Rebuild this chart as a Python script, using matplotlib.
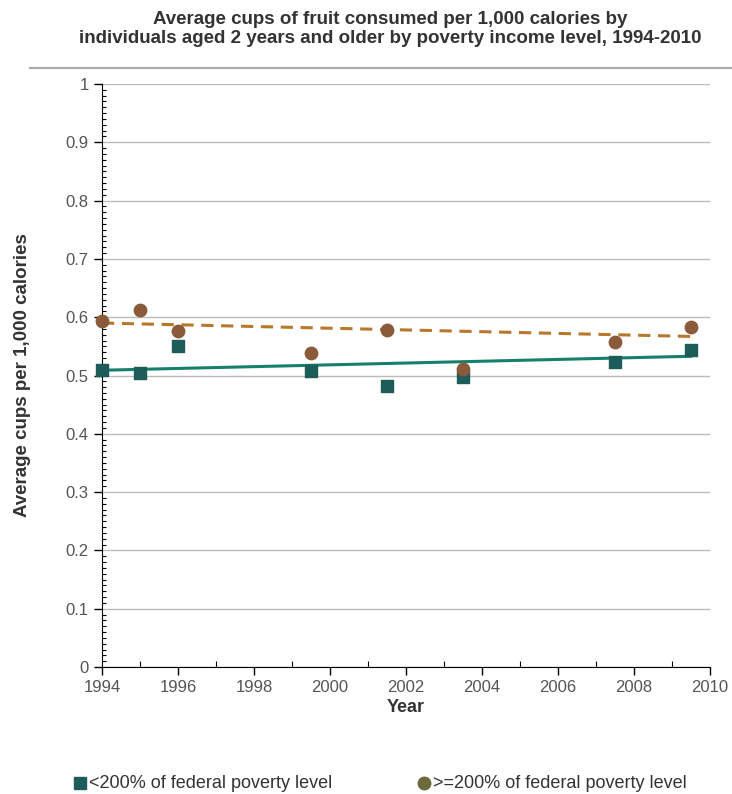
import matplotlib.pyplot as plt
import numpy as np
from matplotlib.ticker import MultipleLocator

plt.rcParams['font.family'] = ['Liberation Sans', 'DejaVu Sans']

# data
years = [1994, 1995, 1996, 1999.5, 2001.5, 2003.5, 2007.5, 2009.5]
below_200 = [0.510, 0.505, 0.550, 0.507, 0.482, 0.498, 0.524, 0.543]
above_200 = [0.593, 0.613, 0.576, 0.538, 0.578, 0.511, 0.557, 0.583]

trend_years = [1994, 2009.5]
below_trend = [0.509, 0.533]
above_trend = [0.590, 0.567]

label_below = "<200% of federal poverty level"
label_above = ">=200% of federal poverty level"
title = ("Average cups of fruit consumed per 1,000 calories by\n"
         "individuals aged 2 years and older by poverty income level, 1994-2010")

W, H = 732, 794
fig = plt.figure(figsize=(7.32, 7.94), dpi=100)
ax = fig.add_axes([102 / W, 1 - 667 / H, 608 / W, 583 / H])

ax.plot(trend_years, below_trend, color='#16806a', lw=2.2, zorder=3)
ax.plot(trend_years, above_trend, color='#b8782c', lw=2.2, ls=(0, (4, 2.5)), zorder=3)
ax.scatter(years, below_200, marker='s', s=70, color='#1d5c58', zorder=4, clip_on=False)
ax.scatter(years, above_200, marker='o', s=80, color='#8a5a3a', zorder=4, clip_on=False)

ax.set_xlim(1994, 2010)
ax.set_ylim(0, 1)
ax.xaxis.set_major_locator(MultipleLocator(2))
ax.xaxis.set_minor_locator(MultipleLocator(1))
ax.yaxis.set_minor_locator(MultipleLocator(0.01))
ax.set_yticks(np.arange(0, 1.01, 0.1))
ax.set_yticklabels(['0', '0.1', '0.2', '0.3', '0.4', '0.5', '0.6', '0.7', '0.8', '0.9', '1'])

ax.tick_params(axis='both', which='major', direction='out', length=6, width=1,
               labelsize=12, labelcolor='#555555')
ax.tick_params(axis='y', which='minor', direction='in', length=3, width=0.8)
ax.tick_params(axis='x', which='minor', direction='in', length=4, width=0.8)

for s in ['top', 'right']:
    ax.spines[s].set_visible(False)
ax.grid(axis='y', which='major', color='#bbbbbb', lw=1)
ax.set_axisbelow(True)

ax.set_xlabel('Year', fontsize=13, fontweight='bold', color='#333333', labelpad=3)
ax.set_ylabel('Average cups per 1,000 calories', fontsize=13.5, fontweight='bold',
              color='#333333')
ax.yaxis.set_label_coords((31 - 102) / 608, 0.5)

fig.text(390 / W, 1 - 29 / H, title, ha='center', va='center', fontsize=13.5,
         fontweight='bold', color='#333333', linespacing=1.15)
fig.add_artist(plt.Line2D([30 / W, 1], [1 - 68 / H] * 2, color='#aaaaaa', lw=1.5,
                          transform=fig.transFigure))

# legend drawn by hand to sit where the original has it
ly = 1 - 783 / H
fig.add_artist(plt.Line2D([80 / W], [ly], marker='s', color='#1d5c58', ls='none',
                          markersize=8, transform=fig.transFigure))
fig.text(89 / W, ly, label_below, ha='left', va='center', fontsize=13, color='#333333')
fig.add_artist(plt.Line2D([424 / W], [ly], marker='o', color='#6b6a3a', ls='none',
                          markersize=9, transform=fig.transFigure))
fig.text(433 / W, ly, label_above, ha='left', va='center', fontsize=13, color='#333333')

fig.savefig('out.png', dpi=100)
